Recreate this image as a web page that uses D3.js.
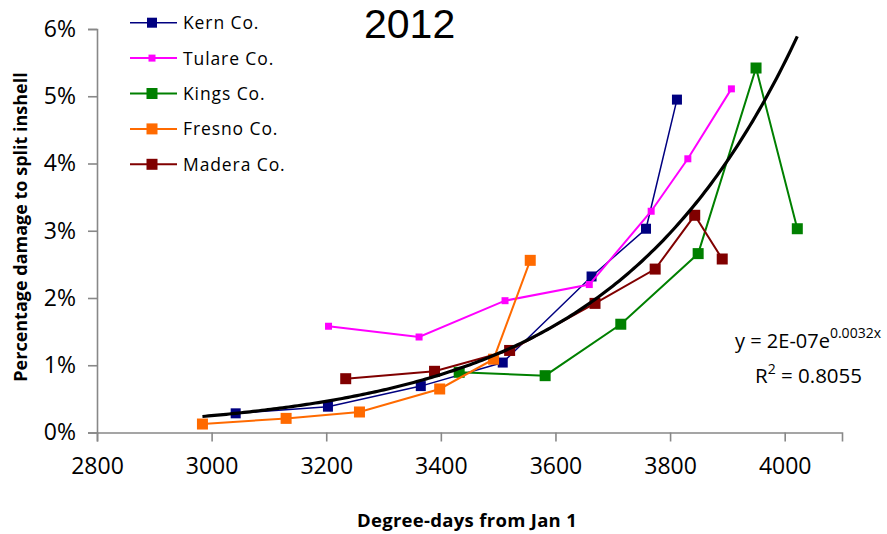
<!DOCTYPE html>
<html>
<head>
<meta charset="utf-8">
<script src="https://cdn.jsdelivr.net/npm/d3@7"></script>
<style>
  html, body { margin: 0; padding: 0; background: #fff; }
  svg { display: block; }
  text { font-family: "Open Sans", "Noto Sans", sans-serif; fill: #000; }
</style>
</head>
<body>
<svg id="chart" width="887" height="534"></svg>
<script>
// Split inshell damage vs. accumulated degree-days, 2012, by county
const seriesNames = ["Kern Co.", "Tulare Co.", "Kings Co.", "Fresno Co.", "Madera Co."];

const kernDD   = [3042, 3203, 3365, 3508, 3663, 3758, 3812];
const kernPct  = [0.285, 0.384, 0.69, 1.04, 2.32, 3.03, 4.95];

const tulareDD  = [3204, 3362, 3512, 3659, 3767, 3831, 3907];
const tularePct = [1.58, 1.42, 1.96, 2.20, 3.29, 4.07, 5.11];

const kingsDD  = [3432, 3582, 3714, 3849, 3950, 4022];
const kingsPct = [0.895, 0.845, 1.61, 2.66, 5.42, 3.03];

const fresnoDD  = [2984, 3130, 3258, 3398, 3492, 3556];
const fresnoPct = [0.126, 0.21, 0.305, 0.647, 1.09, 2.56];

const maderaDD  = [3234, 3389, 3520, 3669, 3774, 3843, 3891];
const maderaPct = [0.80, 0.91, 1.22, 1.92, 2.43, 3.23, 2.58];

const xTicks = [2800, 3000, 3200, 3400, 3600, 3800, 4000];
const yTicks = [0, 1, 2, 3, 4, 5, 6];

const titleText = "2012";
const xTitle = "Degree-days from Jan 1";
const yTitle = "Percentage damage to split inshell";
const eqMain = "y = 2E-07e";
const eqExp = "0.0032x";
const r2Value = "0.8055";

// presentation
const colors = ["#000080", "#FF00FF", "#008000", "#FF6A00", "#800000"];
const markerSize = [10, 7, 11, 11, 11];
const lineWidth = [1.5, 2, 2, 2, 2];
const axisColor = "#888888";

const series = [
  [kernDD, kernPct], [tulareDD, tularePct], [kingsDD, kingsPct],
  [fresnoDD, fresnoPct], [maderaDD, maderaPct]
].map(([xs, ys], i) => ({
  name: seriesNames[i],
  points: xs.map((x, j) => ({ x, y: ys[j] }))
}));

const svg = d3.select("#chart");

const x = d3.scaleLinear().domain([2800, 4100]).range([97, 842]);
const y = d3.scaleLinear().domain([0, 6]).range([432.5, 29]);

// axes
const xAxis = d3.axisBottom(x).tickValues(xTicks).tickSize(9).tickPadding(12)
  .tickFormat(d3.format("d"));
const yAxis = d3.axisLeft(y).tickValues(yTicks).tickSize(9).tickPadding(12)
  .tickFormat(d => d + "%");

const gx = svg.append("g").attr("transform", `translate(0,${y(0)})`).call(xAxis);
const gy = svg.append("g").attr("transform", `translate(${x(2800)},0)`).call(yAxis);
[gx, gy].forEach(g => {
  g.select(".domain").attr("stroke", axisColor).attr("stroke-width", 1.6);
  g.selectAll(".tick line").attr("stroke", axisColor).attr("stroke-width", 1.6);
  g.selectAll(".tick text")
    .style("font-family", "'Open Sans', sans-serif")
    .style("font-size", "23px").attr("fill", "#000");
});
gx.selectAll(".tick text").attr("dy", "0.71em").attr("y", 25);

// county series
const line = d3.line().x(d => x(d.x)).y(d => y(d.y));
series.forEach((s, i) => {
  const g = svg.append("g");
  g.append("path").datum(s.points)
    .attr("d", line).attr("fill", "none")
    .attr("stroke", colors[i]).attr("stroke-width", lineWidth[i]);
  g.selectAll("rect").data(s.points).join("rect")
    .attr("x", d => x(d.x) - markerSize[i] / 2)
    .attr("y", d => y(d.y) - markerSize[i] / 2)
    .attr("width", markerSize[i]).attr("height", markerSize[i])
    .attr("fill", colors[i]);
});

// exponential trendline: least squares on ln(y) over all counties
const all = series.flatMap(s => s.points);
const mx = d3.mean(all, d => d.x);
const ml = d3.mean(all, d => Math.log(d.y));
const sxy = d3.sum(all, d => (d.x - mx) * (Math.log(d.y) - ml));
const sxx = d3.sum(all, d => (d.x - mx) ** 2);
const b = sxy / sxx;
const lnA = ml - b * mx;
const [xMin, xMax] = d3.extent(all, d => d.x);
const trend = d3.range(xMin, xMax + 0.001, (xMax - xMin) / 200)
  .map(v => ({ x: v, y: Math.exp(lnA + b * v) }));

svg.append("clipPath").attr("id", "plotClip")
  .append("rect").attr("x", x(2800)).attr("y", y(6))
  .attr("width", x(4100) - x(2800)).attr("height", y(0) - y(6));

svg.append("path").datum(trend)
  .attr("clip-path", "url(#plotClip)")
  .attr("d", line).attr("fill", "none")
  .attr("stroke", "#000").attr("stroke-width", 3.2);

// legend
const legend = svg.append("g");
seriesNames.forEach((name, i) => {
  const ly = 22.7 + i * 35.4;
  legend.append("line").attr("x1", 130).attr("x2", 177).attr("y1", ly).attr("y2", ly)
    .attr("stroke", colors[i]).attr("stroke-width", lineWidth[i]);
  legend.append("rect")
    .attr("x", 152 - markerSize[i] / 2).attr("y", ly - markerSize[i] / 2)
    .attr("width", markerSize[i]).attr("height", markerSize[i])
    .attr("fill", colors[i]);
  legend.append("text").attr("x", 183).attr("y", ly + 6.5)
    .style("font-size", "17.5px").style("letter-spacing", "0.9px")
    .text(name);
});

// title
svg.append("text").attr("x", 364).attr("y", 37.5)
  .style("font-family", "'Liberation Sans', Arial, sans-serif")
  .style("font-size", "41px").text(titleText);

// axis titles
svg.append("text").attr("x", 467).attr("y", 527)
  .attr("text-anchor", "middle")
  .style("font-size", "18.5px").style("font-weight", "bold")
  .style("letter-spacing", "0.3px").text(xTitle);
svg.append("text")
  .attr("transform", "translate(27,227) rotate(-90)")
  .attr("text-anchor", "middle")
  .style("font-size", "18px").style("font-weight", "bold").text(yTitle);

// trendline equation
const eq = svg.append("text").attr("x", 735).attr("y", 348).style("font-size", "20px");
eq.append("tspan").text(eqMain);
eq.append("tspan").attr("dy", -10).style("font-size", "14px").text(eqExp);

const r2 = svg.append("text").attr("x", 755).attr("y", 383).style("font-size", "20.5px");
r2.append("tspan").text("R");
r2.append("tspan").attr("dy", -9).style("font-size", "14px").text("2");
r2.append("tspan").attr("dy", 9).text(" = " + r2Value);
</script>
</body>
</html>
